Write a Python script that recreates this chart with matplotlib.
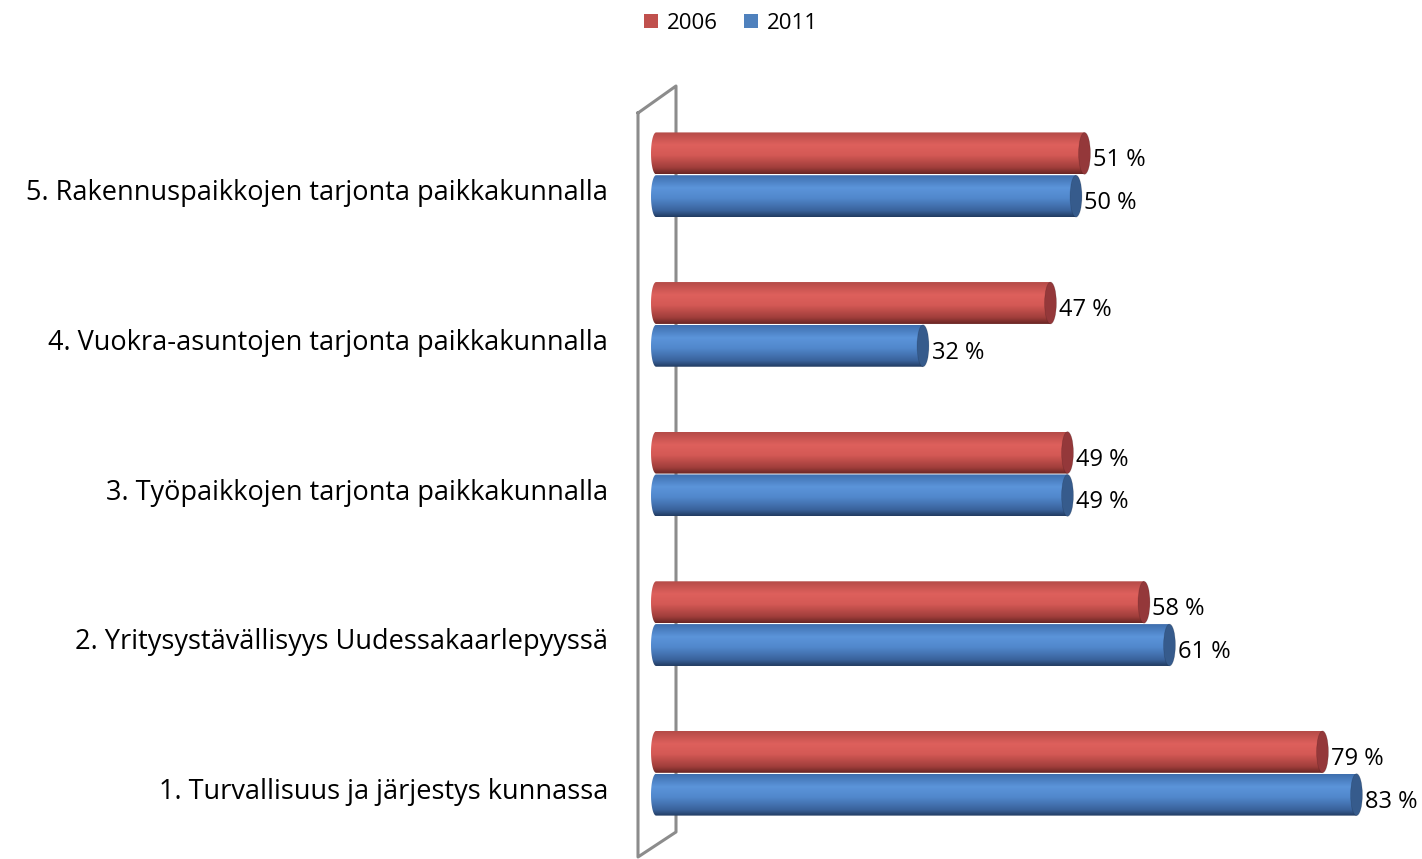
import matplotlib.pyplot as plt
import numpy as np
from matplotlib.patches import Ellipse, Patch, PathPatch
from matplotlib.path import Path
from matplotlib.colors import LinearSegmentedColormap
from matplotlib.lines import Line2D
import matplotlib.transforms as mtransforms

# data
categories = ['1. Turvallisuus ja järjestys kunnassa',
              '2. Yritysystävällisyys Uudessakaarlepyyssä',
              '3. Työpaikkojen tarjonta paikkakunnalla',
              '4. Vuokra-asuntojen tarjonta paikkakunnalla',
              '5. Rakennuspaikkojen tarjonta paikkakunnalla']
values_2006 = [79, 58, 49, 47, 51]
values_2011 = [83, 61, 49, 32, 50]
series_names = ['2006', '2011']

plt.rcParams['font.family'] = ['Open Sans', 'DejaVu Sans']

fig = plt.figure(figsize=(14.22, 8.59), dpi=100)
ax = fig.add_axes([651/1422, 0, 1 - 651/1422, (859-60)/859])
ax.set_facecolor('none')

# cylinder shading, top -> bottom
red_cmap = LinearSegmentedColormap.from_list('r', [(0, '#B54B48'), (0.3, '#DE605C'), (0.55, '#D45955'),
                                                   (0.85, '#A03E3B'), (1, '#6A2624')])
blue_cmap = LinearSegmentedColormap.from_list('b', [(0, '#3F6FAE'), (0.3, '#5B94DA'), (0.55, '#5188CC'),
                                                    (0.85, '#3A639C'), (1, '#223C62')])
grad = np.linspace(0, 1, 100).reshape(-1, 1)

h = 0.28
cap_w = 1.4
left_w = 0.6
label_shift = mtransforms.ScaledTranslation(0, -7/100, fig.dpi_scale_trans)

def cylinder(v, yc, cmap, capcol):
    y0, y1 = yc - h/2, yc + h/2
    # body outline: straight right side, rounded left end
    t = np.linspace(np.pi/2, 3*np.pi/2, 30)
    lx = left_w + left_w*np.cos(t)
    ly = yc + h/2*np.sin(t)
    verts = [(left_w, y0), (v, y0), (v, y1), (left_w, y1)] + list(zip(lx, ly)) + [(left_w, y0)]
    codes = [Path.MOVETO] + [Path.LINETO]*(len(verts)-2) + [Path.CLOSEPOLY]
    patch = PathPatch(Path(verts, codes), facecolor='none', edgecolor='none')
    ax.add_patch(patch)
    im = ax.imshow(grad, cmap=cmap, extent=(0, v, y0, y1), origin='upper', aspect='auto', zorder=2)
    im.set_clip_path(patch)
    ax.add_patch(Ellipse((v, yc), cap_w, h, facecolor=capcol, edgecolor='#00000022', lw=0.6, zorder=3))
    ax.text(v + cap_w/2 + 0.3, yc, f'{v} %', va='center', ha='left', fontsize=17, color='black',
            transform=ax.transData + label_shift)

ypos = np.arange(len(categories))
off = 0.143
for i in ypos:
    cylinder(values_2006[i], i + off, red_cmap, '#94383A')
    cylinder(values_2011[i], i - off, blue_cmap, '#365B8C')

ax.set_xlim(0, 771/8.5)
ax.set_ylim(-0.573, 4.767)
ax.set_yticks(ypos)
ax.set_yticklabels(categories, fontsize=19.5)
ax.tick_params(axis='y', length=0, pad=31)
tick_shift = mtransforms.ScaledTranslation(0, -15/100, fig.dpi_scale_trans)
for lab in ax.get_yticklabels():
    lab.set_transform(lab.get_transform() + tick_shift)
ax.set_xticks([])
for s in ax.spines.values():
    s.set_visible(False)

# back wall
W, H = 1422, 859
wall = [(638, 113), (638, 857), (676, 832), (676, 86), (638, 113)]
xs = [p[0]/W for p in wall]
ys = [1 - p[1]/H for p in wall]
fig.add_artist(Line2D(xs, ys, transform=fig.transFigure, color='#8C8C8C', lw=2.2, zorder=-1))

handles = [Patch(facecolor='#C0504D'), Patch(facecolor='#4F81BD')]
fig.legend(handles, series_names, loc='upper center', bbox_to_anchor=(0.514, 1.008), ncol=2,
           frameon=False, fontsize=16, handlelength=0.6, handleheight=0.6, handletextpad=0.4,
           columnspacing=1.2)

fig.savefig('out.png', dpi=100)
